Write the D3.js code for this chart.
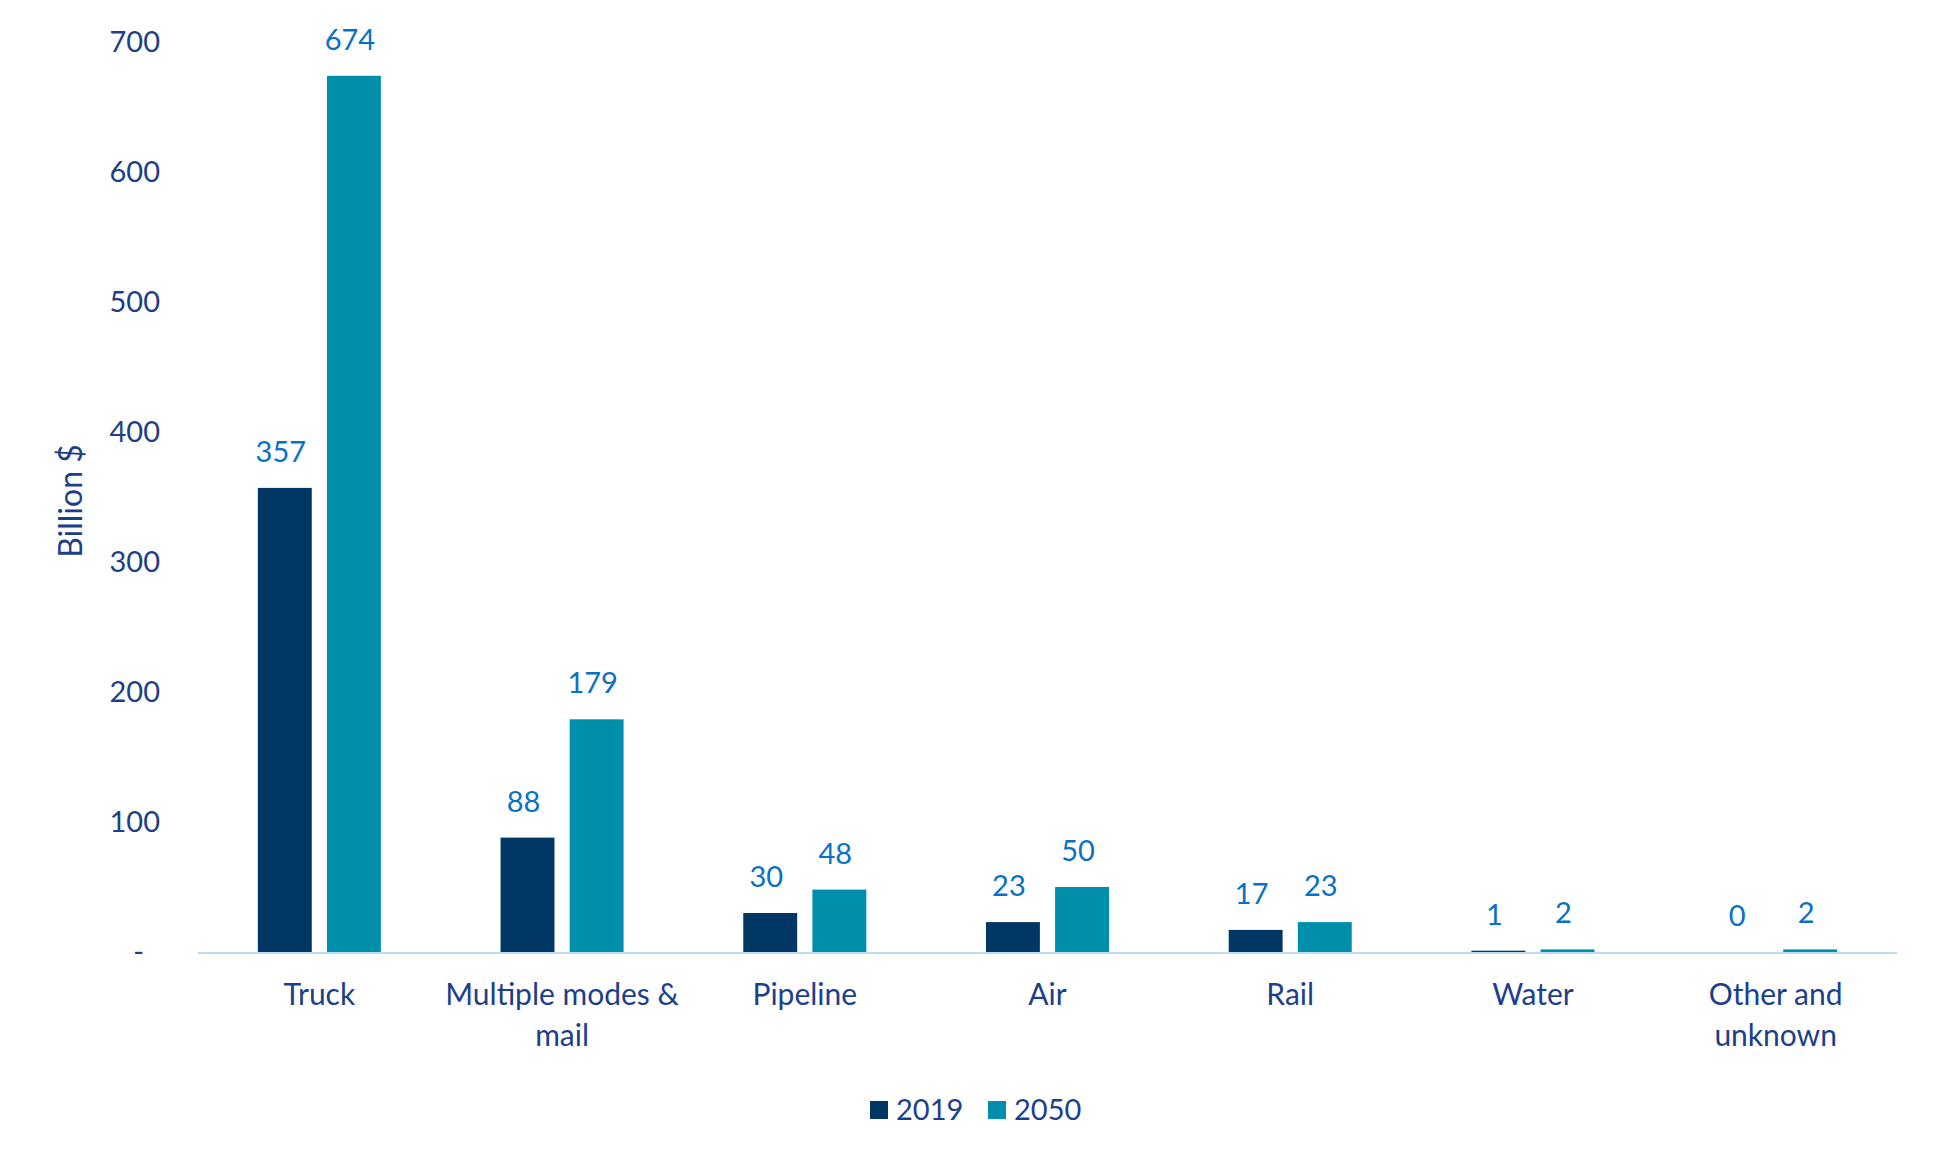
<!DOCTYPE html>
<html>
<head>
<meta charset="utf-8">
<script src="https://cdn.jsdelivr.net/npm/d3@7"></script>
<style>
	body { margin: 0; background: #fff; }
	text { font-family: Lato, "Open Sans", sans-serif; }
</style>
</head>
<body>
<div class="chart"></div>
<script>
(function () {

	"use strict";

	// data
	var categories = ["Truck", "Multiple modes & mail", "Pipeline", "Air", "Rail", "Water", "Other and unknown"];
	var series = ["2019", "2050"];
	var values2019 = [357, 88, 30, 23, 17, 1, 0];
	var values2050 = [674, 179, 48, 50, 23, 2, 2];
	var yTicks = [0, 100, 200, 300, 400, 500, 600, 700];

	var colors = { "2019": "#003764", "2050": "#008FAB" },
		axis_text = "#1D3F8A",
		label_text = "#0A70C4",
		font_size = 29;

	var width = 1938,
		height = 1163,
		plot = { left: 198, right: 1897, top: 42, bottom: 952 };

	var rows = categories.map(function (c, i) {
		return { cat: c, vals: [
			{ key: "2019", v: values2019[i] },
			{ key: "2050", v: values2050[i] }
		] };
	});

	var svg = d3.select(".chart").append("svg")
		.attr("width", width)
		.attr("height", height);

	var x = d3.scaleBand()
		.domain(categories)
		.range([plot.left, plot.right])
		.paddingInner(0.493)
		.paddingOuter(0.2465);

	var x1 = d3.scaleBand()
		.domain(series)
		.range([0, x.bandwidth()])
		.paddingInner(0.22);

	var y = d3.scaleLinear()
		.domain([0, 700])
		.range([plot.bottom, plot.top]);

	// y axis (no line, no ticks)
	var yAxis = svg.append("g")
		.attr("transform", "translate(" + plot.left + ",0)")
		.call(d3.axisLeft(y).tickValues(yTicks).tickSize(0).tickPadding(38)
			.tickFormat(function (d) { return d === 0 ? "-" : d; }));
	yAxis.select(".domain").remove();
	yAxis.selectAll("text")
		.attr("fill", axis_text)
		.style("font-size", font_size + "px")
		.attr("dx", function (d) { return d === 0 ? -16 : 0; });

	svg.append("text")
		.attr("transform", "translate(82," + ((plot.top + plot.bottom) / 2 + 4) + ") rotate(-90)")
		.attr("text-anchor", "middle")
		.attr("fill", axis_text)
		.style("font-size", "32px")
		.text("Billion $");

	// bars
	var groups = svg.selectAll(".group")
		.data(rows)
		.enter()
		.append("g")
		.attr("class", "group")
		.attr("transform", function (d) { return "translate(" + x(d.cat) + ",0)"; });

	groups.selectAll("rect")
		.data(function (d) { return d.vals; })
		.enter()
		.append("rect")
		.attr("x", function (d) { return x1(d.key); })
		.attr("y", function (d) { return y(d.v); })
		.attr("width", x1.bandwidth())
		.attr("height", function (d) { return y(0) - y(d.v); })
		.attr("fill", function (d) { return colors[d.key]; });

	groups.selectAll(".val")
		.data(function (d) { return d.vals; })
		.enter()
		.append("text")
		.attr("class", "val")
		.attr("x", function (d) { return x1(d.key) + x1.bandwidth() / 2 - 4; })
		.attr("y", function (d) { return y(d.v) - 26; })
		.attr("text-anchor", "middle")
		.attr("fill", label_text)
		.style("font-size", font_size + "px")
		.text(function (d) { return d.v; });

	// x axis baseline
	svg.append("line")
		.attr("x1", plot.left)
		.attr("x2", plot.right)
		.attr("y1", y(0) + 1)
		.attr("y2", y(0) + 1)
		.attr("stroke", "#BDDCF4")
		.attr("stroke-width", 2);

	// category labels, wrapped to band step
	var xAxis = svg.append("g")
		.attr("transform", "translate(0," + plot.bottom + ")")
		.call(d3.axisBottom(x).tickSize(0).tickPadding(0));
	xAxis.select(".domain").remove();
	xAxis.selectAll("text")
		.attr("fill", axis_text)
		.style("font-size", "30px")
		.attr("y", 0)
		.attr("dy", 0)
		.each(function (d) {
			var el = d3.select(this),
				words = d.split(" "),
				lines = [],
				line = [];
			el.text(null);
			var probe = el.append("tspan");
			words.forEach(function (w) {
				probe.text(line.concat([w]).join(" "));
				if (line.length && probe.node().getComputedTextLength() > x.step() - 4) {
					lines.push(line.join(" "));
					line = [w];
				} else {
					line.push(w);
				}
			});
			lines.push(line.join(" "));
			probe.remove();
			lines.forEach(function (l, i) {
				el.append("tspan")
					.attr("x", 0)
					.attr("y", 53 + i * 41)
					.text(l);
			});
		});

	// legend
	var legend = svg.append("g")
		.attr("transform", "translate(870,1101)");
	var items = legend.selectAll(".item")
		.data(series)
		.enter()
		.append("g")
		.attr("class", "item")
		.attr("transform", function (d, i) { return "translate(" + (i * 118) + ",0)"; });
	items.append("rect")
		.attr("width", 18)
		.attr("height", 18)
		.attr("fill", function (d) { return colors[d]; });
	items.append("text")
		.attr("x", 26)
		.attr("y", 19)
		.attr("fill", axis_text)
		.style("font-size", font_size + "px")
		.text(function (d) { return d; });

})();
</script>
</body>
</html>
